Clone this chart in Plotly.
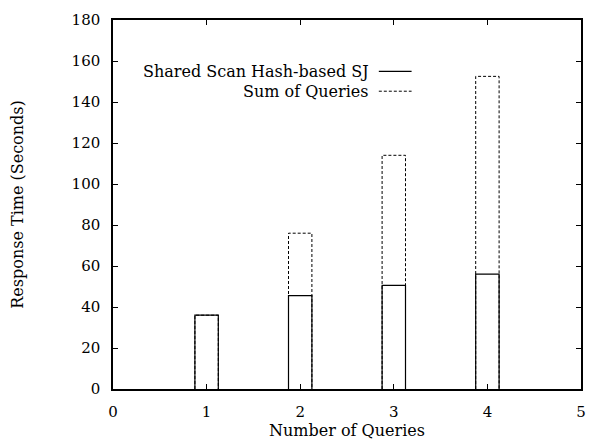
import plotly.graph_objects as go

queries = [1, 2, 3, 4]
shared_scan = [36, 45.5, 50.5, 56]
sum_of_queries = [36, 76, 114, 152.5]
series_names = ["Shared Scan Hash-based SJ", "Sum of Queries"]
x_ticks = [0, 1, 2, 3, 4, 5]
y_ticks = [0, 20, 40, 60, 80, 100, 120, 140, 160, 180]

BAR_W = 0.25
FONT = "DejaVu Serif"


def outline(xs, ys, w):
    px, py = [], []
    for x, y in zip(xs, ys):
        px += [x - w / 2, x - w / 2, x + w / 2, x + w / 2, None]
        py += [0, y, y, 0, None]
    return px, py


fig = go.Figure()
sx, sy = outline(queries, shared_scan, BAR_W)
fig.add_trace(go.Scatter(x=sx, y=sy, mode="lines", name=series_names[0],
                         line=dict(color="black", width=1.2), showlegend=False))
dx, dy = outline(queries, sum_of_queries, BAR_W)
fig.add_trace(go.Scatter(x=dx, y=dy, mode="lines", name=series_names[1],
                         line=dict(color="black", width=1, dash="3px,2px"), showlegend=False))

# custom legend (text right-aligned, sample to the right), as in gnuplot
leg_rows = [(0.861, "solid", 1.2), (0.807, "3px,2px", 1)]
for (yy, dash, w), name in zip(leg_rows, series_names):
    fig.add_annotation(x=0.551, y=yy, xref="paper", yref="paper", text=name,
                       showarrow=False, xanchor="right", yanchor="middle",
                       font=dict(family=FONT, size=16, color="black"))
    fig.add_shape(type="line", xref="paper", yref="paper", x0=0.568, x1=0.638,
                  y0=yy, y1=yy, line=dict(color="black", width=w, dash=dash))

axis_common = dict(showline=True, linecolor="black", linewidth=1.5, mirror="ticks",
                   ticks="inside", ticklen=5, tickcolor="black", tickwidth=1,
                   showgrid=False, zeroline=False,
                   tickfont=dict(family=FONT, size=15, color="black"))
fig.update_xaxes(range=[0, 5], tickvals=x_ticks, ticktext=[str(t) for t in x_ticks],
                 ticklabelstandoff=8,
                 title=dict(text="Number of Queries", standoff=2,
                            font=dict(family=FONT, size=16, color="black")),
                 **axis_common)
fig.update_yaxes(range=[0, 180], tickvals=y_ticks, ticktext=[str(t) for t in y_ticks],
                 ticklabelstandoff=8,
                 title=dict(text="Response Time (Seconds)", standoff=44,
                            font=dict(family=FONT, size=16, color="black")),
                 **axis_common)
fig.update_layout(width=592, height=440, margin=dict(l=113, r=6, t=20, b=47),
                  plot_bgcolor="white", paper_bgcolor="white", showlegend=False)
fig.write_html("out.html", config={"displayModeBar": False},
               post_script="document.body.style.margin='0';")
